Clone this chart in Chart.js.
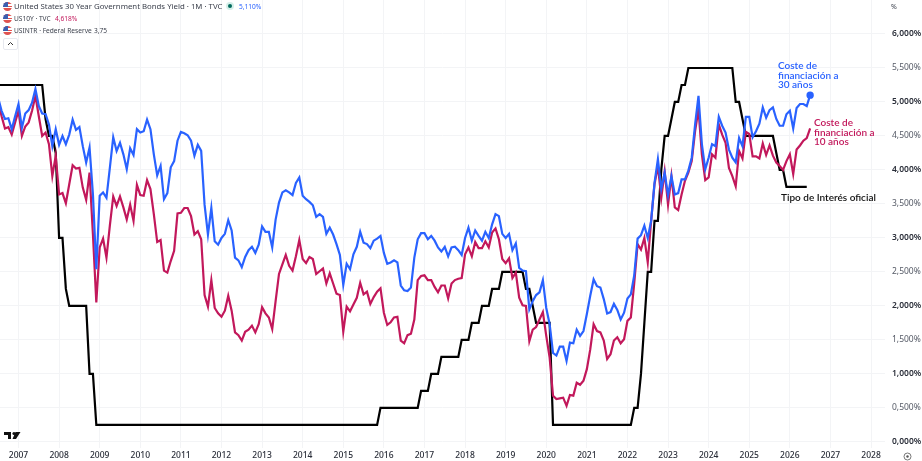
<!DOCTYPE html>
<html><head><meta charset="utf-8">
<script src="https://cdn.jsdelivr.net/npm/chart.js@4"></script>
<style>
html,body{margin:0;padding:0;background:#fff;overflow:hidden}
#wrap{position:relative;width:922px;height:461px;font-family:"Noto Sans",sans-serif}
canvas{position:absolute;left:0;top:0}
.t{position:absolute;white-space:nowrap;color:#131722;line-height:11px}
.flag{position:absolute;left:3px;width:9px;height:9px;border-radius:50%;background:linear-gradient(#e0524f 0 25%,#fff 25% 40%,#e0524f 40% 55%,#fff 55% 70%,#e0524f 70% 100%);overflow:hidden}
.flag:after{content:"";position:absolute;left:0;top:0;width:5px;height:5px;background:#3c5fb0}
.note{position:absolute;font-weight:600;font-size:10px;line-height:9.6px;white-space:nowrap;font-family:Lato,"Noto Sans",sans-serif}
</style></head><body>
<div id="wrap">
<canvas id="c" width="922" height="461"></canvas>
<div class="flag" style="top:2px"></div>
<div class="t" style="left:14px;top:1px;font-size:7.8px;color:#3a3f4b">United States 30 Year Government Bonds Yield · 1M · TVC</div>
<div style="position:absolute;left:226px;top:2px;width:8px;height:8px;border-radius:50%;background:#d5efe9"></div>
<div style="position:absolute;left:228px;top:4px;width:4px;height:4px;border-radius:50%;background:#00695c"></div>
<div class="t" style="left:239px;top:1px;font-size:6.6px;color:#2962ff">5,110%</div>
<div class="flag" style="top:14px"></div>
<div class="t" style="left:14px;top:13px;font-size:6.6px;color:#3a3f4b">US10Y · TVC</div>
<div class="t" style="left:55px;top:13px;font-size:6.6px;color:#c2185b">4,618%</div>
<div class="flag" style="top:26px"></div>
<div class="t" style="left:14px;top:25px;font-size:6.6px;color:#3a3f4b">USINTR · Federal Reserve</div>
<div class="t" style="left:94px;top:25px;font-size:6.6px;color:#3a3f4b">3,75</div>
<div style="position:absolute;left:3px;top:38px;width:13px;height:10px;border:1px solid #e6e8ee;border-radius:2px"></div>
<svg style="position:absolute;left:7px;top:41px" width="7" height="5"><path d="M1 4L3.5 1.5L6 4" fill="none" stroke="#333" stroke-width="1"/></svg>
<div class="t" style="left:891px;top:1px;font-size:7px;color:#3a3f4b">%</div>
<svg style="position:absolute;left:4px;top:431px" width="17" height="9"><path d="M0 1H7V8H4V4H0ZM11.5 1H16.5L12 8H8.5Z" fill="#111"/><circle cx="10" cy="2.5" r="1.6" fill="#111"/></svg>
<svg style="position:absolute;left:903px;top:452px" width="9" height="9"><circle cx="4.5" cy="4.5" r="3.5" fill="none" stroke="#555" stroke-width=".8"/><circle cx="4.5" cy="4.5" r="1.2" fill="#555"/></svg>
<div class="note" style="left:778px;top:61px;color:#2962ff">Coste de<br>financiación a<br>30 años</div>
<div class="note" style="left:814px;top:118px;color:#c2185b">Coste de<br>financiación a<br>10 años</div>
<div class="note" style="left:781px;top:193px;color:#111;font-size:10px">Tipo de Interés oficial</div>
</div>
<script>
const yearLabels = [2007,2008,2009,2010,2011,2012,2013,2014,2015,2016,2017,2018,2019,2020,2021,2022,2023,2024,2025,2026,2027,2028];
const yTickValues = [0,0.5,1,1.5,2,2.5,3,3.5,4,4.5,5,5.5,6];
// monthly closes, July 2006 to July 2026
const us30y = [
5.06,4.87,4.75,4.76,4.60,4.79,
4.97,4.62,4.83,4.88,4.99,5.19,4.94,4.83,4.82,4.67,4.35,4.60,
4.37,4.50,4.38,4.52,4.74,4.59,4.63,4.35,4.11,4.33,3.64,2.54,
3.62,3.67,3.59,4.03,4.48,4.28,4.40,4.23,4.01,4.32,4.22,4.60,
4.55,4.57,4.74,4.60,4.23,3.92,4.06,3.57,3.66,4.04,4.13,4.43,
4.56,4.54,4.51,4.43,4.21,4.37,4.28,3.49,3.05,3.44,2.95,2.90,
3.00,3.06,3.26,3.11,2.71,2.67,2.57,2.72,2.82,2.87,2.78,2.90,
3.17,3.09,3.09,2.86,3.27,3.52,3.67,3.70,3.67,3.63,3.81,3.89,
3.62,3.57,3.53,3.48,3.31,3.35,3.31,3.06,3.15,3.05,2.91,2.75,
2.31,2.62,2.54,2.76,2.87,3.09,2.93,2.91,2.85,2.96,2.99,3.03,
2.78,2.62,2.64,2.67,2.64,2.30,2.23,2.22,2.27,2.71,2.98,3.07,
3.07,2.98,3.03,2.96,2.86,2.80,2.87,2.73,2.86,2.87,2.82,2.75,
3.00,3.15,2.96,3.11,3.03,2.96,3.09,3.00,3.20,3.35,3.32,3.06,
3.00,3.06,2.82,2.92,2.56,2.52,2.51,1.95,2.07,2.16,2.20,2.38,
1.97,1.73,1.31,1.27,1.40,1.40,1.19,1.46,1.45,1.65,1.56,1.63,
1.88,2.15,2.39,2.29,2.27,2.10,1.89,1.91,2.03,1.94,1.80,1.90,
2.11,2.17,2.45,2.99,3.04,3.18,3.00,3.25,3.81,4.16,3.72,3.96,
3.63,3.91,3.64,3.66,3.86,3.86,3.99,4.18,4.67,5.09,4.38,4.01,
4.18,4.38,4.35,4.78,4.65,4.55,4.30,4.18,4.11,4.47,4.35,4.78,
4.78,4.48,4.57,4.68,4.92,4.77,4.88,4.92,4.75,4.65,4.65,4.82,
4.87,4.61,4.91,4.97,4.97,4.94,5.10];
const us10y = [
5.01,4.79,4.61,4.63,4.52,4.70,
4.87,4.50,4.64,4.70,4.87,5.09,4.79,4.50,4.55,4.38,3.91,4.21,
3.64,3.66,3.51,3.79,4.07,4.02,4.03,3.74,3.56,3.96,3.05,2.05,
2.86,2.99,2.71,3.18,3.61,3.47,3.61,3.45,3.27,3.49,3.25,3.78,
3.63,3.62,3.85,3.72,3.35,2.94,2.97,2.52,2.49,2.66,2.81,3.36,
3.37,3.44,3.44,3.32,3.05,3.10,2.98,2.16,1.99,2.38,1.97,1.89,
1.84,1.93,2.15,1.93,1.61,1.57,1.49,1.62,1.65,1.71,1.61,1.73,
1.98,1.89,1.83,1.66,2.07,2.47,2.61,2.75,2.59,2.52,2.73,2.97,
2.69,2.63,2.72,2.69,2.47,2.51,2.55,2.33,2.48,2.33,2.18,2.16,
1.62,1.99,1.92,2.02,2.12,2.34,2.17,2.21,2.03,2.13,2.21,2.26,
1.90,1.72,1.76,1.83,1.84,1.49,1.45,1.57,1.59,1.80,2.38,2.44,
2.45,2.38,2.38,2.28,2.20,2.30,2.30,2.11,2.33,2.38,2.40,2.41,
2.76,2.86,2.73,2.94,2.85,2.85,2.95,2.86,3.08,3.14,2.98,2.69,
2.63,2.70,2.41,2.49,2.12,2.01,2.00,1.48,1.65,1.69,1.80,1.91,
1.56,1.24,0.68,0.63,0.64,0.65,0.53,0.69,0.68,0.87,0.84,0.90,
1.07,1.36,1.73,1.63,1.61,1.49,1.22,1.29,1.49,1.54,1.45,1.51,
1.78,1.83,2.33,2.91,2.83,3.00,2.64,3.25,3.79,4.06,3.59,3.98,
3.49,3.91,3.45,3.41,3.64,3.84,3.96,4.13,4.57,4.89,4.23,3.85,
3.89,4.23,4.18,4.67,4.52,4.40,4.03,3.91,3.76,4.28,4.17,4.56,
4.53,4.20,4.20,4.17,4.39,4.22,4.36,4.21,4.11,4.06,4.00,4.13,
4.23,3.94,4.30,4.36,4.43,4.47,4.61];
const usintr = [
5.25,5.25,5.25,5.25,5.25,5.25,
5.25,5.25,5.25,5.25,5.25,5.25,5.25,5.25,4.75,4.50,4.50,4.25,
3.00,3.00,2.25,2.00,2.00,2.00,2.00,2.00,2.00,1.00,1.00,0.25,
0.25,0.25,0.25,0.25,0.25,0.25,0.25,0.25,0.25,0.25,0.25,0.25,
0.25,0.25,0.25,0.25,0.25,0.25,0.25,0.25,0.25,0.25,0.25,0.25,
0.25,0.25,0.25,0.25,0.25,0.25,0.25,0.25,0.25,0.25,0.25,0.25,
0.25,0.25,0.25,0.25,0.25,0.25,0.25,0.25,0.25,0.25,0.25,0.25,
0.25,0.25,0.25,0.25,0.25,0.25,0.25,0.25,0.25,0.25,0.25,0.25,
0.25,0.25,0.25,0.25,0.25,0.25,0.25,0.25,0.25,0.25,0.25,0.25,
0.25,0.25,0.25,0.25,0.25,0.25,0.25,0.25,0.25,0.25,0.25,0.50,
0.50,0.50,0.50,0.50,0.50,0.50,0.50,0.50,0.50,0.50,0.50,0.75,
0.75,0.75,1.00,1.00,1.00,1.25,1.25,1.25,1.25,1.25,1.25,1.50,
1.50,1.50,1.75,1.75,1.75,2.00,2.00,2.00,2.25,2.25,2.25,2.50,
2.50,2.50,2.50,2.50,2.50,2.50,2.25,2.25,2.00,1.75,1.75,1.75,
1.75,1.75,0.25,0.25,0.25,0.25,0.25,0.25,0.25,0.25,0.25,0.25,
0.25,0.25,0.25,0.25,0.25,0.25,0.25,0.25,0.25,0.25,0.25,0.25,
0.25,0.25,0.50,0.50,1.00,1.75,2.50,2.50,3.25,3.25,4.00,4.50,
4.50,4.75,5.00,5.00,5.25,5.25,5.50,5.50,5.50,5.50,5.50,5.50,
5.50,5.50,5.50,5.50,5.50,5.50,5.50,5.50,5.00,5.00,4.75,4.50,
4.50,4.50,4.50,4.50,4.50,4.50,4.50,4.50,4.25,4.00,4.00,3.75,
3.75,3.75,3.75,3.75,3.75,3.75,null];

const FIRST_MONTH = -6; // July 2006 relative to January 2007
const pts = a => a.map((v,i)=>({x:i+FIRST_MONTH,y:v}));
const GRID = '#f3f4f6';
const lastRadius = a => ctx => ctx.dataIndex===a.length-1 ? 2.6 : 0;
const noPad = ax => {ax.paddingLeft=0;ax.paddingRight=0;ax.paddingTop=0;ax.paddingBottom=0;};
new Chart(document.getElementById('c'),{
  type:'line',
  data:{datasets:[
    {label:'US30Y',data:pts(us30y),borderColor:'#2962ff',backgroundColor:'#2962ff',borderWidth:2.2,pointRadius:lastRadius(us30y),pointHoverRadius:0,order:1,tension:0,borderJoinStyle:'miter'},
    {label:'US10Y',data:pts(us10y),borderColor:'#c2185b',backgroundColor:'#c2185b',borderWidth:2.2,pointRadius:0,order:2,tension:0,borderJoinStyle:'miter'},
    {label:'USINTR',data:pts(usintr),borderColor:'#000',backgroundColor:'#000',borderWidth:2.2,pointRadius:0,order:3,tension:0,spanGaps:false,borderJoinStyle:'miter'}
  ]},
  options:{
    responsive:false,animation:false,devicePixelRatio:1,
    layout:{padding:0,autoPadding:false},
    plugins:{legend:{display:false},tooltip:{enabled:false}},
    scales:{
      x:{type:'linear',min:-5.47,max:256.13,
        border:{display:false},
        grid:{color:GRID,lineWidth:1,drawTicks:false},
        afterBuildTicks:ax=>{ax.ticks=yearLabels.map((y,i)=>({value:i*12}));},
        afterFit:ax=>{ax.height=13;noPad(ax);},
        ticks:{autoSkip:false,maxRotation:0,padding:2,color:'#2a2e39',
          font:{family:'"Noto Sans",sans-serif',size:8.5,weight:'500'},
          callback:v=>String(2007+v/12)}
      },
      y:{type:'linear',position:'right',min:-0.09,max:6.5,
        border:{display:false},
        grid:{color:GRID,lineWidth:1,drawTicks:false},
        afterBuildTicks:ax=>{ax.ticks=yTickValues.map(v=>({value:v}));},
        afterFit:ax=>{ax.width=37;noPad(ax);},
        ticks:{padding:7,color:c=>Number.isInteger(c.tick.value)?'#2a2e39':'#555a66',
          font:c=>({family:'"Noto Sans",sans-serif',size:8.5,weight:Number.isInteger(c.tick&&c.tick.value)?'600':'400'}),
          callback:v=>v.toFixed(3).replace('.',',')+'%'}
      }
    }
  }
});
</script>
</body></html>
